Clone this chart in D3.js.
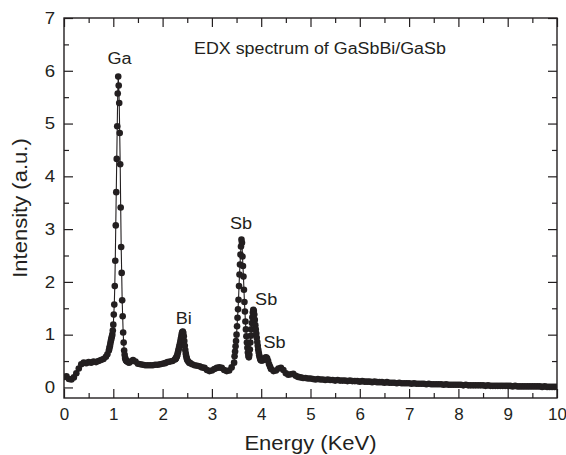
<!DOCTYPE html>
<html><head><meta charset="utf-8">
<script src="https://cdn.jsdelivr.net/npm/d3@7"></script>
<style>
body{margin:0;background:#fff}
text{font-family:"Liberation Sans",Arial,Helvetica,sans-serif;fill:#231f20}
</style>
</head><body><svg id="c" width="566" height="455"></svg>
<script>
// [energy keV, intensity a.u.]
const spectrum = [
 [0,.20],[.05,.21],[.10,.16],[.15,.15],[.20,.19],[.25,.27],[.30,.36],[.35,.44],[.40,.47],[.45,.46],
 [.50,.48],[.55,.47],[.60,.49],[.65,.48],[.70,.50],[.75,.52],[.80,.54],[.85,.58],[.88,.63],
 [.91,.70],[.92,.74],[.93,.78],[.94,.83],[.95,.88],[.96,.92],[.97,.96],[.98,1.00],[.99,1.08],[1.00,1.19],
 [1.01,1.38],[1.02,1.57],[1.03,1.92],[1.04,2.40],[1.05,3.07],[1.06,3.70],[1.07,4.33],[1.08,4.95],[1.09,5.57],[1.10,5.89],
 [1.11,5.72],[1.12,5.39],[1.13,4.82],[1.14,4.23],[1.15,3.41],[1.16,2.66],[1.17,2.17],[1.18,1.65],[1.19,1.35],[1.20,1.04],
 [1.21,.85],[1.22,.70],[1.23,.62],[1.24,.56],[1.25,.53],[1.26,.51],[1.27,.50],[1.28,.49],[1.30,.48],[1.32,.47],
 [1.35,.49],[1.40,.52],[1.45,.49],[1.50,.45],[1.55,.44],[1.60,.43],[1.65,.42],[1.70,.42],[1.75,.42],[1.80,.42],
 [1.85,.43],[1.90,.43],[1.95,.44],[2.00,.45],[2.05,.46],[2.10,.48],[2.15,.49],[2.20,.50],[2.25,.53],
 [2.26,.54],[2.27,.55],[2.28,.57],[2.29,.59],[2.30,.62],[2.31,.66],[2.32,.70],[2.33,.74],[2.34,.78],[2.35,.82],
 [2.36,.87],[2.37,.92],[2.38,.97],[2.39,1.02],[2.40,1.05],[2.41,1.06],[2.42,1.03],[2.43,.97],[2.44,.88],[2.45,.79],
 [2.46,.71],[2.47,.64],[2.48,.59],[2.49,.55],[2.50,.52],[2.52,.49],[2.54,.47],[2.56,.46],
 [2.60,.44],[2.65,.42],[2.70,.41],[2.75,.40],[2.80,.38],[2.85,.37],[2.90,.33],[2.95,.31],[3.00,.32],[3.05,.35],
 [3.10,.37],[3.15,.38],[3.20,.37],[3.25,.33],[3.30,.31],[3.35,.32],[3.40,.38],
 [3.45,.47],[3.46,.59],[3.47,.68],[3.48,.78],[3.49,.88],[3.50,1.00],[3.51,1.16],[3.52,1.32],[3.53,1.48],[3.54,1.66],
 [3.55,1.92],[3.56,2.14],[3.57,2.33],[3.58,2.52],[3.59,2.67],[3.60,2.80],[3.61,2.74],[3.62,2.48],[3.63,2.30],[3.64,2.10],
 [3.65,1.85],[3.66,1.62],[3.67,1.44],[3.68,1.25],[3.69,1.10],[3.70,.97],[3.71,.85],[3.72,.75],[3.73,.66],[3.74,.60],
 [3.75,.57],[3.76,.62],[3.77,.72],[3.78,.85],[3.79,.98],[3.80,1.10],[3.81,1.22],[3.82,1.33],[3.83,1.42],[3.84,1.47],
 [3.85,1.45],[3.86,1.38],[3.87,1.28],[3.88,1.18],[3.89,1.10],[3.90,1.02],[3.91,.94],[3.92,.86],[3.93,.79],[3.94,.72],
 [3.95,.66],[3.96,.61],[3.97,.57],[3.98,.54],[3.99,.52],[4.00,.51],[4.02,.51],[4.04,.52],[4.06,.54],[4.08,.56],
 [4.10,.57],[4.12,.55],[4.14,.50],[4.16,.44],[4.18,.39],[4.20,.35],
 [4.25,.31],[4.30,.32],[4.35,.36],[4.40,.37],[4.45,.33],[4.50,.27],[4.55,.24],[4.60,.25],[4.65,.26],[4.70,.22],
 [4.75,.20],[4.80,.19],[4.85,.18],[4.90,.18],[4.95,.17],[5.00,.17],
 [5.05,.16],[5.10,.15],[5.15,.16],[5.20,.15],[5.25,.15],[5.30,.14],[5.35,.15],[5.40,.14],[5.45,.14],[5.50,.13],
 [5.55,.14],[5.60,.13],[5.65,.13],[5.70,.13],[5.75,.12],[5.80,.13],[5.85,.12],[5.90,.12],[5.95,.12],[6.00,.11],
 [6.05,.12],[6.10,.11],[6.15,.11],[6.20,.11],[6.25,.10],[6.30,.11],[6.35,.10],[6.40,.10],[6.45,.10],[6.50,.09],
 [6.55,.10],[6.60,.09],[6.65,.09],[6.70,.09],[6.75,.08],[6.80,.09],[6.85,.08],[6.90,.08],[6.95,.08],[7.00,.08],
 [7.05,.07],[7.10,.08],[7.15,.07],[7.20,.07],[7.25,.07],[7.30,.07],[7.35,.06],[7.40,.07],[7.45,.06],[7.50,.06],
 [7.55,.06],[7.60,.06],[7.65,.06],[7.70,.05],[7.75,.06],[7.80,.05],[7.85,.05],[7.90,.05],[7.95,.05],[8.00,.05],
 [8.05,.05],[8.10,.04],[8.15,.05],[8.20,.04],[8.25,.04],[8.30,.04],[8.35,.04],[8.40,.04],[8.45,.04],[8.50,.04],
 [8.55,.03],[8.60,.04],[8.65,.03],[8.70,.03],[8.75,.03],[8.80,.03],[8.85,.03],[8.90,.03],[8.95,.03],[9.00,.03],
 [9.05,.03],[9.10,.02],[9.15,.03],[9.20,.02],[9.25,.02],[9.30,.02],[9.35,.02],[9.40,.02],[9.45,.02],[9.50,.02],
 [9.55,.02],[9.60,.02],[9.65,.02],[9.70,.01],[9.75,.02],[9.80,.01],[9.85,.01],[9.90,.01],[9.95,.01],[10.00,.01]
];
const xTicks = [0,1,2,3,4,5,6,7,8,9,10];
const xMinorTicks = [0.5,1.5,2.5,3.5,4.5,5.5,6.5,7.5,8.5,9.5];
const yTicks = [0,1,2,3,4,5,6,7];
const yMinorTicks = [0.5,1.5,2.5,3.5,4.5,5.5,6.5];
const peakLabels = [
 {text:"Ga", e:1.125, i:6.12},
 {text:"Bi", e:2.43, i:1.21},
 {text:"Sb", e:3.59, i:3.01},
 {text:"Sb", e:4.10, i:1.57},
 {text:"Sb", e:4.27, i:0.74}
];
const titleText = "EDX spectrum of GaSbBi/GaSb";
const xTitle = "Energy (KeV)";
const yTitle = "Intensity (a.u.)";

const ink = "#231f20";
const SX = 1.13;
const L = 64, R = 557, T = 18, B = 398;
const svg = d3.select("#c");
const x = d3.scaleLinear().domain([0,10]).range([L,R]);
const y = d3.scaleLinear().domain([-0.2,7]).range([B,T]);

svg.append("defs").append("clipPath").attr("id","clip")
  .append("rect").attr("x",L).attr("y",T).attr("width",R-L).attr("height",B-T);

const plot = svg.append("g").attr("clip-path","url(#clip)");
plot.append("path").datum(spectrum)
  .attr("fill","none").attr("stroke",ink).attr("stroke-width",1.1)
  .attr("d", d3.line().x(d=>x(d[0])).y(d=>y(d[1])));
plot.selectAll("circle").data(spectrum).join("circle")
  .attr("cx",d=>x(d[0])).attr("cy",d=>y(d[1])).attr("r",3.3).attr("fill",ink);

function styleAxis(g){
  g.select(".domain").remove();
  g.selectAll("line").attr("stroke",ink).attr("stroke-width",1.2);
}
// bottom
svg.append("g").attr("transform",`translate(0,${B})`)
  .call(d3.axisBottom(x).tickValues(xTicks).tickSize(-9).tickSizeOuter(0).tickPadding(10).tickFormat(d3.format("d")))
  .call(styleAxis)
  .call(g=>g.selectAll("text").attr("fill",ink).style("font-size","16.5px").attr("transform",`scale(1.03,1)`));
svg.append("g").attr("transform",`translate(0,${B})`)
  .call(d3.axisBottom(x).tickValues(xMinorTicks).tickSize(-5).tickSizeOuter(0).tickFormat(""))
  .call(styleAxis);
// top
svg.append("g").attr("transform",`translate(0,${T})`)
  .call(d3.axisTop(x).tickValues(xTicks).tickSize(-9).tickSizeOuter(0).tickFormat(""))
  .call(styleAxis);
svg.append("g").attr("transform",`translate(0,${T})`)
  .call(d3.axisTop(x).tickValues(xMinorTicks).tickSize(-5).tickSizeOuter(0).tickFormat(""))
  .call(styleAxis);
// left
svg.append("g").attr("transform",`translate(${L},0)`)
  .call(d3.axisLeft(y).tickValues(yTicks).tickSize(-9).tickSizeOuter(0).tickPadding(9).tickFormat(d3.format("d")))
  .call(styleAxis)
  .call(g=>g.selectAll("text").attr("fill",ink).style("font-size","16.5px").attr("x",-9/SX).attr("transform",`scale(${SX},1)`));
svg.append("g").attr("transform",`translate(${L},0)`)
  .call(d3.axisLeft(y).tickValues(yMinorTicks).tickSize(-5).tickSizeOuter(0).tickFormat(""))
  .call(styleAxis);
// right
svg.append("g").attr("transform",`translate(${R},0)`)
  .call(d3.axisRight(y).tickValues(yTicks).tickSize(-9).tickSizeOuter(0).tickFormat(""))
  .call(styleAxis);
svg.append("g").attr("transform",`translate(${R},0)`)
  .call(d3.axisRight(y).tickValues(yMinorTicks).tickSize(-5).tickSizeOuter(0).tickFormat(""))
  .call(styleAxis);

svg.append("rect").attr("x",L).attr("y",T).attr("width",R-L).attr("height",B-T)
  .attr("fill","none").attr("stroke",ink).attr("stroke-width",1.4);

// titles
svg.append("text").attr("transform",`translate(${(L+R)/2},450) scale(${SX},1)`)
  .attr("text-anchor","middle").style("font-size","19.5px").text(xTitle);
svg.append("text").attr("transform",`translate(27,${(T+B)/2}) rotate(-90) scale(${SX},1)`)
  .attr("text-anchor","middle").style("font-size","19.5px").text(yTitle);
svg.append("text").attr("transform",`translate(194,54) scale(${SX},1)`)
  .attr("text-anchor","start").style("font-size","15.8px").text(titleText);

svg.selectAll(".plab").data(peakLabels).join("text").attr("class","plab")
  .attr("transform",d=>`translate(${x(d.e)},${y(d.i)}) scale(${SX},1)`)
  .attr("text-anchor","middle").style("font-size","16px").text(d=>d.text);
</script>
</body></html>
